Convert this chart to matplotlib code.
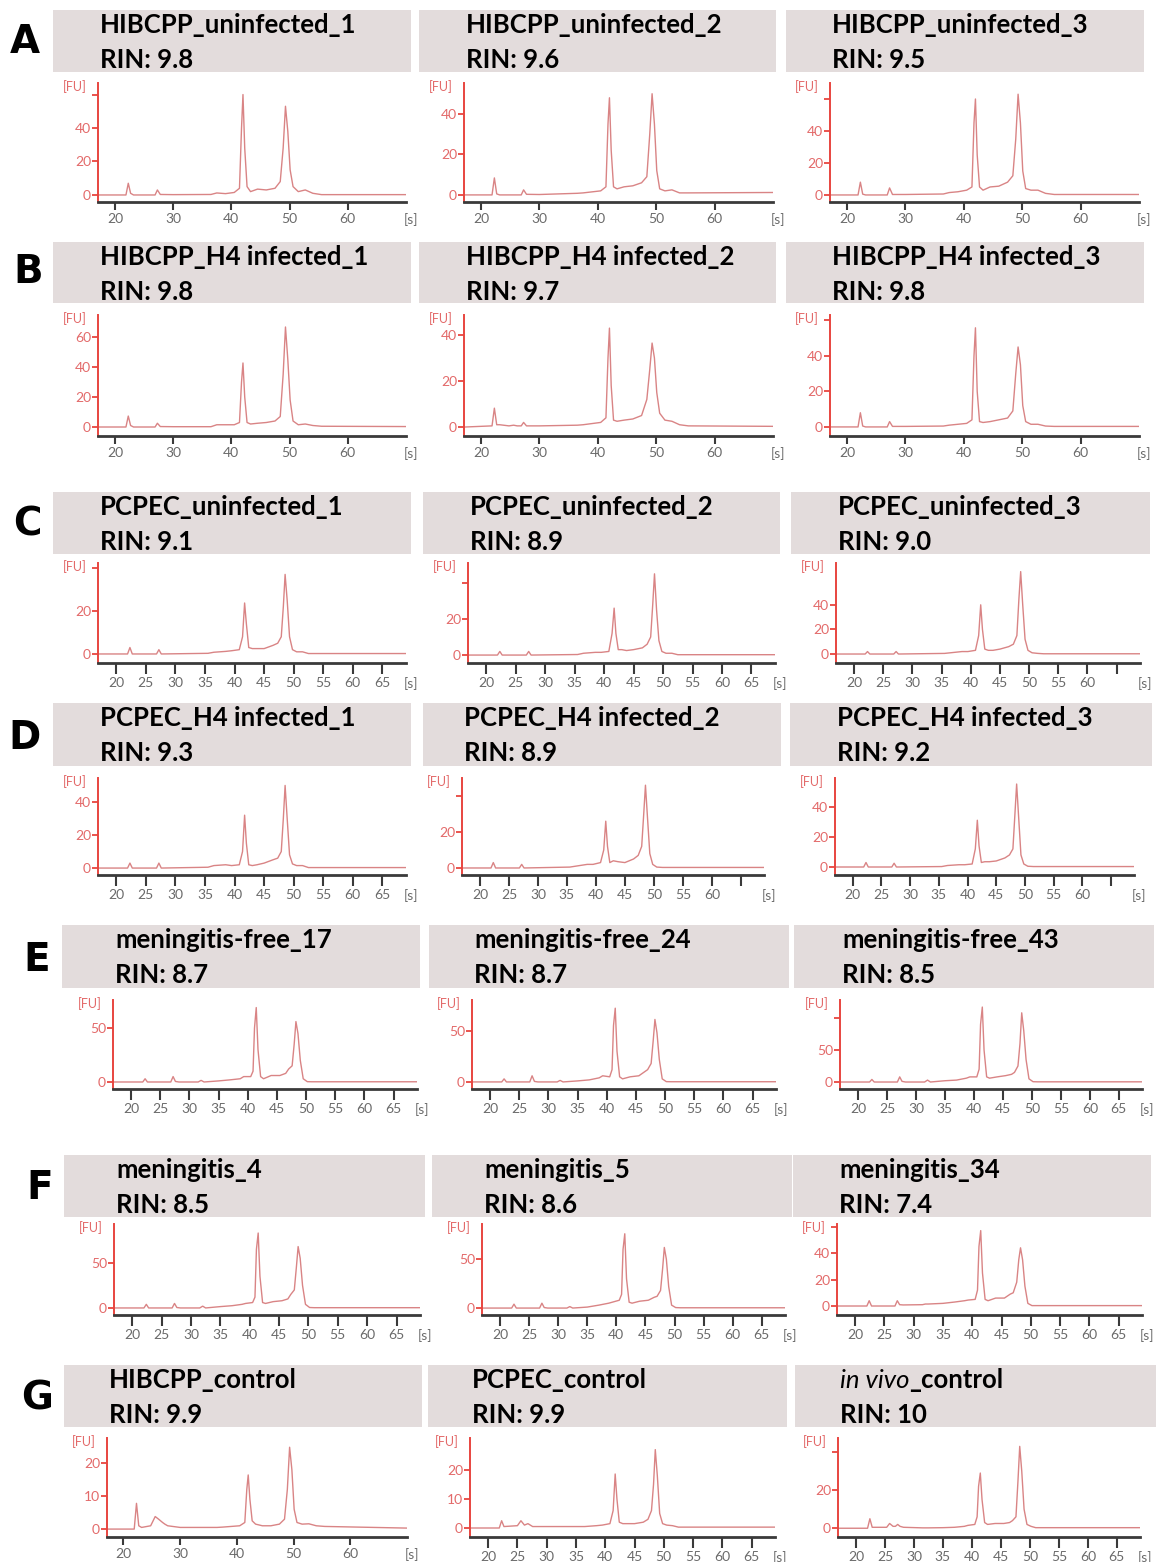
import matplotlib
matplotlib.use('Agg')
import matplotlib.pyplot as plt
from matplotlib.patches import Rectangle

W, H = 1156, 1562

# ---- data -------------------------------------------------------------
letters = ['A', 'B', 'C', 'D', 'E', 'F', 'G']
names = [
    ['HIBCPP_uninfected_1', 'HIBCPP_uninfected_2', 'HIBCPP_uninfected_3'],
    ['HIBCPP_H4 infected_1', 'HIBCPP_H4 infected_2', 'HIBCPP_H4 infected_3'],
    ['PCPEC_uninfected_1', 'PCPEC_uninfected_2', 'PCPEC_uninfected_3'],
    ['PCPEC_H4 infected_1', 'PCPEC_H4 infected_2', 'PCPEC_H4 infected_3'],
    ['meningitis-free_17', 'meningitis-free_24', 'meningitis-free_43'],
    ['meningitis_4', 'meningitis_5', 'meningitis_34'],
    ['HIBCPP_control', 'PCPEC_control', 'in vivo_control'],
]
rin = [['9.8', '9.6', '9.5'], ['9.8', '9.7', '9.8'], ['9.1', '8.9', '9.0'],
       ['9.3', '8.9', '9.2'], ['8.7', '8.7', '8.5'], ['8.5', '8.6', '7.4'],
       ['9.9', '9.9', '10']]

# migration time [s] sampling of the traces
t_hib = [17.2, 21.9, 22.3, 22.7, 23.2, 24.8, 25.6, 26.2, 26.9, 27.3, 27.8, 30.0,
         36.5, 37.5, 39.0, 40.5, 41.4, 41.75, 42.0, 42.3, 42.7, 43.3, 44.5, 46.0,
         47.5, 48.4, 48.9, 49.3, 49.7, 50.1, 50.6, 51.5, 52.7, 54.0, 55.5, 70.0]
t_pc = [16.8, 21.9, 22.3, 22.7, 25.0, 25.6, 26.2, 26.8, 27.2, 27.6, 35.5, 36.5,
        38.5, 39.5, 40.8, 41.35, 41.7, 42.0, 42.4, 43.0, 43.8, 45.0, 46.5, 47.3,
        47.9, 48.25, 48.55, 48.9, 49.3, 49.8, 50.5, 51.5, 52.5, 69.0]
t_tis = [16.8, 22.0, 22.4, 22.8, 25.3, 25.8, 26.4, 26.8, 27.2, 27.6, 28.2, 31.5,
         32.0, 32.5, 35.0, 37.0, 38.7, 39.3, 40.5, 40.9, 41.15, 41.45, 41.75, 42.2,
         42.7, 44.0, 45.5, 46.5, 47.0, 47.6, 47.95, 48.25, 48.6, 49.0, 49.5, 50.2,
         51.0, 69.0]

# fluorescence [FU]
fu_a1 = [0, 0, 7, 1, 0, 0, 0, 0, 0, 3, 0.3, 0.2, 0.3, 1.2, 0.8, 1.5, 4, 40, 60, 28,
         5, 2, 3.5, 3, 4, 8, 28, 53, 38, 15, 5, 2, 3, 1, 0.2, 0.2]
fu_a2 = [0, 0, 8.4, 0.5, 0, 0, 0, 0, 0, 2.5, 0.3, 0.2, 0.8, 1, 1.5, 2, 4, 35, 48, 22,
         4, 3, 4, 4.5, 6, 9, 30, 50, 35, 12, 3, 2, 2.5, 1, 1, 1.2]
fu_a3 = [0, 0, 8, 0.5, 0, 0, 0, 0, 0, 4.4, 0.3, 0.3, 0.6, 1.5, 2, 3, 5, 45, 60, 25,
         5, 3, 5, 5.5, 8, 12, 35, 63, 45, 15, 4, 3, 3, 1, 0.3, 0.3]
fu_b1 = [0, 0, 7.3, 1, 0, 0, 0, 0, 0, 2.5, 0.3, 0.2, 0.2, 1.5, 1.5, 1.5, 3, 30, 42.7, 20,
         3, 2, 2.5, 3, 4, 7, 35, 66.7, 45, 18, 4, 1.5, 2, 1, 0.5, 0.3]
fu_b2 = [0, 0.5, 8.2, 1, 1, 0.5, 0.8, 0.5, 0.5, 2, 0.5, 0.5, 0.8, 1, 1.5, 2, 4, 30, 43, 18,
         3, 2.5, 3, 3.5, 5, 12, 25, 36.5, 30, 15, 6, 3, 2.5, 1, 0.5, 0.3]
fu_b3 = [0, 0, 8, 0.5, 0, 0, 0, 0, 0, 3, 0.3, 0.3, 0.5, 1, 1.5, 2, 4, 40, 55.8, 20,
         3, 2.5, 3, 4, 5, 9, 30, 45, 35, 12, 3, 1.5, 1.5, 0.5, 0.3, 0.3]
fu_c1 = [0, 0, 3, 0, 0, 0, 0, 0, 2, 0, 0.3, 0.8, 1.2, 1.5, 2, 8, 23.7, 14, 3, 2.5,
         2.5, 2.5, 4, 5, 8, 22, 37, 25, 8, 2, 1, 1, 0.2, 0.2]
fu_c2 = [0, 0, 2, 0, 0, 0, 0, 0, 2, 0, 0.3, 1, 1.5, 1.5, 2, 12, 26, 12, 3, 3,
         2.5, 3, 4, 6, 10, 28, 45, 25, 8, 2, 1, 1, 0.2, 0.2]
fu_c3 = [0, 0, 2, 0, 0, 0, 0, 0, 2, 0, 0.5, 1, 2, 2, 3, 15, 40, 20, 4, 3,
         3, 4, 6, 8, 15, 45, 67, 40, 12, 3, 1, 0.5, 0.2, 0.2]
fu_d1 = [0, 0, 3, 0, 0, 0, 0, 0, 3, 0, 0.5, 1.5, 2, 1.5, 2, 10, 32, 15, 2, 1.5,
         2, 3, 5, 6, 10, 30, 50, 30, 8, 2.5, 1.5, 1.5, 0.3, 0.3]
fu_d2 = [0, 0, 3, 0, 0, 0, 0, 0, 2, 0, 0.5, 1, 2, 2, 3, 10, 26, 12, 3, 4,
         3.5, 3, 5, 7, 12, 30, 46, 28, 8, 2, 0.5, 0.3, 0.3, 0.3]
fu_d3 = [0, 0, 3, 0, 0, 0, 0, 0, 2.5, 0, 0.3, 1, 1.5, 1.5, 2, 12, 31, 14, 3, 3.5,
         3.5, 4, 6, 8, 12, 35, 55, 33, 8, 2, 0.5, 0.3, 0.3, 0.3]
fu_e1 = [0, 0, 3, 0, 0, 0, 0, 0, 5, 0.5, 0, 0, 1.5, 0, 1, 2, 3, 5, 5, 10,
         50, 69, 30, 5, 3, 6, 6, 8, 12, 15, 35, 56, 45, 20, 3, 0.3, 0.2, 0.2]
fu_e2 = [0, 0, 3, 0, 0, 0, 0, 0, 6, 0.5, 0, 0, 1.5, 0, 1, 2, 4, 6, 5, 12,
         55, 72, 30, 5, 3, 5, 6, 10, 12, 18, 40, 61, 48, 22, 3, 0.3, 0.2, 0.2]
fu_e3 = [0, 0, 4, 0, 0, 0, 0, 0, 8, 1, 0, 0, 3, 0, 2, 3, 6, 8, 8, 20,
         90, 117, 50, 8, 6, 8, 10, 12, 15, 25, 60, 108, 80, 35, 5, 0.5, 0.3, 0.3]
fu_f1 = [0, 0, 4, 0, 0, 0, 0, 0, 5, 0.5, 0, 0, 2, 0, 1.5, 2.5, 4, 5, 6, 12,
         65, 83, 35, 6, 5, 7, 8, 10, 15, 20, 45, 68, 55, 25, 4, 0.5, 0.3, 0.3]
fu_f2 = [0, 0, 4, 0, 0, 0, 0, 0, 5, 0.5, 0, 0, 1.5, 0, 1, 3, 5, 6, 8, 14,
         60, 76, 30, 6, 5, 7, 8, 11, 12, 18, 40, 62, 50, 22, 3, 0.5, 0.3, 0.3]
fu_f3 = [0, 0, 4, 0, 0, 0, 0, 0, 4, 1, 0.8, 1, 1.5, 1.5, 2, 3, 4, 4.5, 5, 12,
         45, 57, 25, 5, 4, 6, 6, 9, 10, 18, 35, 44, 35, 15, 2, 0.3, 0.3, 0.3]
fu_g1 = [0, 0, 7.8, 1, 0.5, 1, 3.8, 3, 2, 1.5, 1, 0.5, 0.5, 0.6, 0.8, 1, 2, 12, 16.4, 9,
         2.5, 1.5, 1, 1, 1.5, 3, 12, 24.8, 18, 6, 2, 1.5, 1.6, 1, 0.8, 0.3]
fu_g2 = [0, 0, 2.5, 0.5, 0.8, 2.5, 1, 1.5, 1, 0.5, 0.5, 0.5, 0.8, 1, 1.5, 6, 18.6, 10, 2, 1.5,
         1.5, 1.5, 2, 3, 6, 15, 27, 18, 5, 1.5, 1, 0.8, 0.3, 0.3]
fu_g3 = [0, 0, 5, 0.5, 0.5, 2.5, 1, 1, 2, 1, 0.5, 0.2, 0.2, 0.2, 0.3, 0.5, 1, 1.5, 2, 6,
         22, 29, 15, 3, 2, 2.5, 2.5, 3, 4, 6, 25, 43, 30, 10, 2, 1, 0.3, 0.3]

traces = [[fu_a1, fu_a2, fu_a3], [fu_b1, fu_b2, fu_b3], [fu_c1, fu_c2, fu_c3],
          [fu_d1, fu_d2, fu_d3], [fu_e1, fu_e2, fu_e3], [fu_f1, fu_f2, fu_f3],
          [fu_g1, fu_g2, fu_g3]]
times = [[t_hib] * 3, [t_hib] * 3, [t_pc] * 3, [t_pc] * 3, [t_tis] * 3, [t_tis] * 3,
         [t_hib, t_pc, t_tis]]

# labelled y ticks and the unlabelled tick at the top of the axis
yticks = [[[0, 20, 40]] * 3,
          [[0, 20, 40, 60], [0, 20, 40], [0, 20, 40]],
          [[0, 20], [0, 20], [0, 20, 40]],
          [[0, 20, 40], [0, 20], [0, 20, 40]],
          [[0, 50]] * 3,
          [[0, 50], [0, 50], [0, 20, 40]],
          [[0, 10, 20], [0, 10, 20], [0, 20]]]
ytop = [[60, None, 60], [None, None, 60], [40, 40, None], [None, 40, None],
        [None, None, 100], [None, None, 60], [None, None, 40]]

# ---- layout (pixels) --------------------------------------------------
ylims = [[(-4.2, 66.9), (-3.5, 55.3), (-4.4, 70)],
         [(-6, 74.7), (-3.9, 48.7), (-5.1, 63)],
         [(-4.2, 42.3), (-4.4, 51), (-7.3, 74)],
         [(-4.2, 54.5), (-3.9, 50), (-5.3, 59)],
         [(-6.5, 76), (-6.9, 80), (-10.9, 128)],
         [(-7.8, 93), (-7.1, 86), (-6.8, 62)],
         [(-2.4, 27.6), (-3.1, 31), (-4.6, 47.4)]]
xspan = [[(98, 406), (464, 773), (830, 1139)],
         [(98, 406), (464, 773), (830, 1139)],
         [(98, 406), (468, 775), (836, 1140)],
         [(98, 406), (462, 764), (835, 1134)],
         [(113, 417), (472, 776), (840, 1142)],
         [(114, 420), (482, 785), (837, 1142)],
         [(107, 407), (470, 775), (838, 1140)]]
yspan = [(83, 202), (315, 436), (563, 663), (778, 875), (1000, 1089), (1224, 1315), (1438, 1537)]
box_y = [(10, 72), (242, 303), (492, 554), (703, 766), (925, 988), (1155, 1217), (1365, 1427)]
box_x = [[(53, 411), (419, 776), (786, 1144)],
         [(53, 411), (419, 776), (786, 1144)],
         [(53, 411), (423, 780), (791, 1150)],
         [(53, 411), (423, 781), (790, 1152)],
         [(62, 420), (429, 789), (794, 1154)],
         [(64, 425), (432, 792), (793, 1151)],
         [(64, 422), (428, 787), (795, 1156)]]
letter_xy = [(25, 42), (28, 272), (27, 525), (25, 738), (37, 960), (40, 1188), (37, 1398)]

RED = '#e8453f'
YLAB = '#e36a6a'
TRACE = '#d98485'
BOX = '#e3dcdc'
FONT = 'Lato'

fig = plt.figure(figsize=(W / 100, H / 100), dpi=100)


def fx(px):
    return px / W


def fy(py):
    return 1 - py / H


renderer = fig.canvas.get_renderer()

for r in range(7):
    fig.text(fx(letter_xy[r][0]), fy(letter_xy[r][1]), letters[r], fontsize=28,
             fontweight='heavy', family='DejaVu Sans', ha='center', va='center')
    for c in range(3):
        bx0, bx1 = box_x[r][c]
        by0, by1 = box_y[r]
        fig.add_artist(Rectangle((fx(bx0), fy(by1)), (bx1 - bx0) / W, (by1 - by0) / H,
                                 transform=fig.transFigure, facecolor=BOX,
                                 edgecolor='none', zorder=0))
        l, rr = xspan[r][c]
        t, b = yspan[r]
        tx = fx(l + 2)
        name = names[r][c]
        kw = dict(fontsize=18.5, fontweight='bold', family=FONT, va='baseline', ha='left')
        if name.startswith('in vivo'):
            t1 = fig.text(tx, fy(by0 + 23), 'in vivo', fontsize=18.5, style='italic',
                          family=FONT, va='baseline', ha='left')
            bb = t1.get_window_extent(renderer)
            fig.text(bb.x1 / W, fy(by0 + 23), name[len('in vivo'):], **kw)
        else:
            fig.text(tx, fy(by0 + 23), name, **kw)
        fig.text(tx, fy(by0 + 58), 'RIN: ' + rin[r][c], **kw)

        # electropherogram
        ax = fig.add_axes([fx(l), fy(b), (rr - l) / W, (b - t) / H])
        ax.plot(times[r][c], traces[r][c], color=TRACE, lw=1.0)
        tenstep = r in (0, 1) or (r == 6 and c == 0)
        if tenstep:
            ax.set_xlim(17.1, 70)
            xt = [20, 30, 40, 50, 60]
            xl = [str(v) for v in xt]
            tlen = 6
        else:
            ax.set_xlim(16.9, 69)
            xt = [20, 25, 30, 35, 40, 45, 50, 55, 60, 65]
            xl = [str(v) for v in xt]
            if (r, c) in [(2, 2), (3, 1), (3, 2)]:
                xl[-1] = ''
            tlen = 8
        ax.set_ylim(*ylims[r][c])
        ax.set_xticks(xt)
        ax.set_xticklabels(xl)
        yt = list(yticks[r][c])
        yl = [str(v) for v in yt]
        if ytop[r][c] is not None:
            yt.append(ytop[r][c])
            yl.append('')
        ax.set_yticks(yt)
        ax.set_yticklabels(yl)
        for s in ('top', 'right'):
            ax.spines[s].set_visible(False)
        ax.spines['left'].set_color(RED)
        ax.spines['left'].set_linewidth(1.4)
        ax.spines['bottom'].set_color('#3a3a3a')
        ax.spines['bottom'].set_linewidth(2)
        ax.patch.set_visible(False)
        ax.tick_params(axis='y', color=RED, labelcolor=YLAB, length=4, width=1.3,
                       labelsize=10, pad=1)
        ax.tick_params(axis='x', color='#3a3a3a', labelcolor='#6a6a6a', length=tlen,
                       width=1.5, labelsize=10, pad=2)
        for lab in ax.get_xticklabels() + ax.get_yticklabels():
            lab.set_family(FONT)
        fig.text(fx(l - 23), fy(t + 4), '[FU]', color=YLAB, fontsize=9, family=FONT,
                 ha='center', va='center')
        fig.text(fx(rr + 5), fy(b + tlen * 100 / 72 + 9), '[s]', color='#6a6a6a',
                 fontsize=10, family=FONT, ha='center', va='center')

fig.savefig('out.png', dpi=100)
